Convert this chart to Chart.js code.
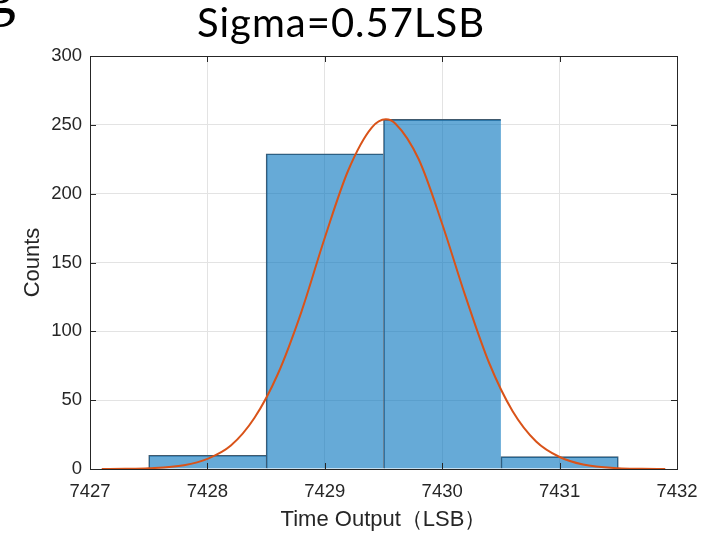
<!DOCTYPE html>
<html>
<head>
<meta charset="utf-8">
<script src="https://cdn.jsdelivr.net/npm/chart.js@4.4.1/dist/chart.umd.min.js"></script>
<style>
    html, body { margin: 0; padding: 0; background: #fff; }
    #wrap { position: relative; width: 703px; height: 533px; overflow: hidden; }
    #cut  { position: absolute; left: -16px; top: -40px; font: 64px 'Liberation Serif'; color: #000; line-height: 1; }
    canvas { position: absolute; left: 0; top: 0; }
</style>
</head>
<body>
<div id="wrap">
    <span id="cut">g</span>
    <canvas id="histChart" width="703" height="533"></canvas>
</div>
<script>
// ── Data ─────────────────────────────────────
const binCenters = [7428, 7429, 7430, 7431];
const counts     = [10, 229, 254, 9];

// fitted normal curve
const fitX = [7427.1, 7427.3, 7427.5, 7427.8, 7428.0, 7428.2, 7428.4, 7428.6, 7428.8, 7429.0,
              7429.2, 7429.4, 7429.52, 7429.6, 7429.8, 7430.0, 7430.2, 7430.4, 7430.6, 7430.8,
              7431.0, 7431.2, 7431.5, 7431.7, 7431.9];
const fitY = [0, 0.1, 0.5, 2.7, 7.3, 17, 37, 69, 114, 168,
              217, 248, 254, 251, 225, 178, 125, 77, 42, 20,
              8.7, 3.3, 0.6, 0.2, 0];

const xRange   = [7427, 7432];
const yTicks   = [0, 50, 100, 150, 200, 250, 300];
const titleTxt = 'Sigma=0.57LSB';
const xLabel   = 'Time Output（LSB）';
const yLabel   = 'Counts';

// ── Frame, inward ticks and title ────────────
const matlabAxes = {
    id: 'matlabAxes',
    afterDraw(chart) {
        const { ctx, chartArea: a, scales } = chart;
        const tl = 6;
        ctx.save();
        ctx.strokeStyle = '#262626';
        ctx.lineWidth = 1;
        ctx.strokeRect(a.left + 0.5, a.top + 0.5, a.right - a.left, a.bottom - a.top);
        ctx.beginPath();
        scales.x.ticks.forEach(t => {
            const px = Math.round(scales.x.getPixelForValue(t.value)) + 0.5;
            ctx.moveTo(px, a.bottom); ctx.lineTo(px, a.bottom - tl);
            ctx.moveTo(px, a.top);    ctx.lineTo(px, a.top + tl);
        });
        scales.y.ticks.forEach(t => {
            const py = Math.round(scales.y.getPixelForValue(t.value)) + 0.5;
            ctx.moveTo(a.left, py);  ctx.lineTo(a.left + tl, py);
            ctx.moveTo(a.right, py); ctx.lineTo(a.right - tl, py);
        });
        ctx.stroke();

        ctx.fillStyle = '#000';
        ctx.font = '40px Lato';
        ctx.letterSpacing = '1px';
        ctx.textAlign = 'center';
        ctx.textBaseline = 'alphabetic';
        ctx.fillText(titleTxt, 341, 37);
        ctx.restore();
    }
};

const sans      = "'Liberation Sans', Arial, sans-serif";
const tickFont  = { family: sans, size: 18.5 };
const labelFont = { family: sans, size: 22 };

// shared edges between neighbouring bins drawn only once
const binEdges = binCenters.map((_, i) => ({
    top: 1, left: 1, bottom: 0, right: i === binCenters.length - 1 ? 1 : 0
}));

new Chart(document.getElementById('histChart'), {
    type: 'bar',
    data: {
        datasets: [
            {
                type: 'line',
                data: fitX.map((x, i) => ({ x, y: fitY[i] })),
                borderColor: '#D95319',
                borderWidth: 2,
                pointRadius: 0,
                cubicInterpolationMode: 'monotone',
                order: 1
            },
            {
                type: 'bar',
                data: binCenters.map((x, i) => ({ x, y: counts[i] })),
                backgroundColor: 'rgba(0,114,189,0.6)',
                borderColor: '#40596d',
                borderWidth: binEdges,
                borderSkipped: false,
                barPercentage: 1,
                categoryPercentage: 1,
                order: 2
            }
        ]
    },
    options: {
        responsive: false,
        animation: false,
        layout: { padding: { top: 56, right: 26, left: 0, bottom: 0 } },
        plugins: { legend: { display: false }, tooltip: { enabled: false } },
        scales: {
            x: {
                type: 'linear',
                min: xRange[0], max: xRange[1],
                offset: false,
                afterFit: s => { s.height = 64; s.paddingLeft = 0; s.paddingRight = 0; },
                grid: { color: '#e3e3e3', drawTicks: false, offset: false },
                border: { display: false },
                ticks: { stepSize: 1, padding: 12, color: '#262626', font: tickFont,
                         callback: v => String(v) },
                title: { display: true, text: xLabel, color: '#262626', font: labelFont,
                         padding: { top: 0, bottom: 0 } }
            },
            y: {
                min: yTicks[0], max: yTicks[yTicks.length - 1],
                afterFit: s => { s.width = 90; s.paddingTop = 0; s.paddingBottom = 0; },
                grid: { color: '#e3e3e3', drawTicks: false },
                border: { display: false },
                ticks: { stepSize: 50, padding: 8, color: '#262626', font: tickFont },
                title: { display: true, text: yLabel, color: '#262626', font: labelFont,
                         padding: { top: 20, bottom: 0 } }
            }
        }
    },
    plugins: [matlabAxes]
});
</script>
</body>
</html>
